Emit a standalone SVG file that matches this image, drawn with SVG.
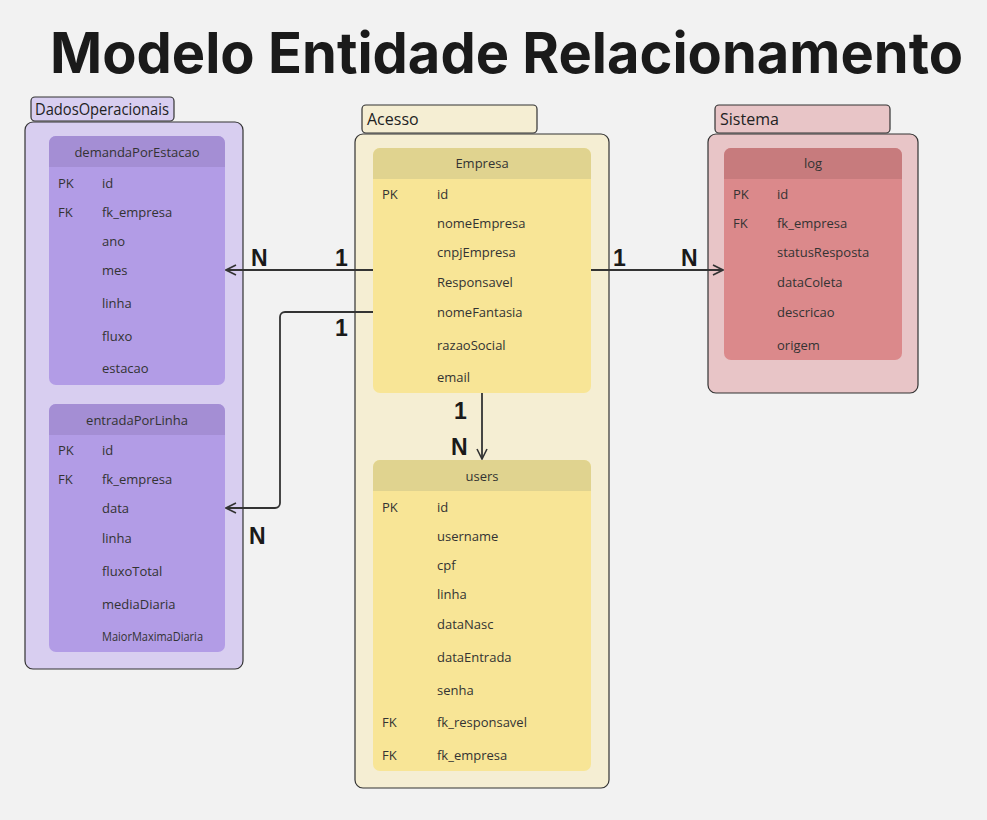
<svg xmlns="http://www.w3.org/2000/svg" width="987" height="820" viewBox="0 0 987 820">
<defs>
<marker id="arr" viewBox="0 0 12 12" refX="11" refY="6" markerWidth="12" markerHeight="12" markerUnits="userSpaceOnUse" orient="auto">
<path d="M1,1 L11,6 L1,11" fill="none" stroke="#333" stroke-width="1.6"/>
</marker>
<style>
.t{font-family:"Open Sans","Noto Sans",sans-serif;font-size:13px;fill:#333}
.h{font-family:"Open Sans","Noto Sans",sans-serif;font-size:13px;fill:#333;text-anchor:middle}
.tab{font-family:"Open Sans","Noto Sans",sans-serif;font-size:16px;fill:#222}
.card{font-family:"Liberation Sans",Arial,sans-serif;font-size:23px;font-weight:bold;fill:#1a1a1a}
.grp{stroke:#333;stroke-width:1.2}
.ln{fill:none;stroke:#333;stroke-width:1.8}
</style>
</defs>
<rect width="987" height="820" fill="#f2f2f2"/>
<text x="50" y="73" font-family="Inter,'Noto Sans',sans-serif" font-size="56" font-weight="700" fill="#1a1a1a" textLength="913" lengthAdjust="spacingAndGlyphs">Modelo Entidade Relacionamento</text>

<g id="grp-dados">
<rect class="grp" x="31" y="97" width="143" height="24" rx="4" fill="#d8cef0"/>
<text class="tab" x="35" y="115" font-size="15" textLength="134" lengthAdjust="spacingAndGlyphs">DadosOperacionais</text>
<rect class="grp" x="25" y="122" width="218" height="547" rx="8" fill="#d8cef0"/>
</g>
<g id="grp-acesso">
<rect class="grp" x="362" y="105" width="175" height="28" rx="4" fill="#f5eed3"/>
<text class="tab" x="367" y="125">Acesso</text>
<rect class="grp" x="355" y="134" width="254" height="654" rx="8" fill="#f5eed3"/>
</g>
<g id="grp-sistema">
<rect class="grp" x="715" y="105" width="175" height="28" rx="4" fill="#e8c5c7"/>
<text class="tab" x="720" y="125">Sistema</text>
<rect class="grp" x="708" y="134" width="210" height="259" rx="8" fill="#e8c5c7"/>
</g>

<g id="demandaPorEstacao">
<rect x="49" y="136" width="176" height="249" rx="7" fill="#b29ce6"/>
<path d="M49,167 V143 a7,7 0 0 1 7,-7 H218 a7,7 0 0 1 7,7 V167 Z" fill="#a48ed4"/>
<text class="h" x="137" y="157">demandaPorEstacao</text>
<text class="t" x="58" y="188">PK</text><text class="t" x="102" y="188">id</text>
<text class="t" x="58" y="217">FK</text><text class="t" x="102" y="217">fk_empresa</text>
<text class="t" x="102" y="246">ano</text>
<text class="t" x="102" y="275">mes</text>
<text class="t" x="102" y="308">linha</text>
<text class="t" x="102" y="341">fluxo</text>
<text class="t" x="102" y="373">estacao</text>
</g>

<g id="entradaPorLinha">
<rect x="49" y="404" width="176" height="248" rx="7" fill="#b29ce6"/>
<path d="M49,435 V411 a7,7 0 0 1 7,-7 H218 a7,7 0 0 1 7,7 V435 Z" fill="#a48ed4"/>
<text class="h" x="137" y="425">entradaPorLinha</text>
<text class="t" x="58" y="455">PK</text><text class="t" x="102" y="455">id</text>
<text class="t" x="58" y="484">FK</text><text class="t" x="102" y="484">fk_empresa</text>
<text class="t" x="102" y="513">data</text>
<text class="t" x="102" y="543">linha</text>
<text class="t" x="102" y="576">fluxoTotal</text>
<text class="t" x="102" y="609">mediaDiaria</text>
<text class="t" x="102" y="641" font-size="10" textLength="101" lengthAdjust="spacingAndGlyphs">MaiorMaximaDiaria</text>
</g>

<g id="Empresa">
<rect x="373" y="148" width="218" height="245" rx="7" fill="#f8e596"/>
<path d="M373,179 V155 a7,7 0 0 1 7,-7 H584 a7,7 0 0 1 7,7 V179 Z" fill="#e0d38f"/>
<text class="h" x="482" y="168">Empresa</text>
<text class="t" x="382" y="199">PK</text><text class="t" x="437" y="199">id</text>
<text class="t" x="437" y="228">nomeEmpresa</text>
<text class="t" x="437" y="257">cnpjEmpresa</text>
<text class="t" x="437" y="287">Responsavel</text>
<text class="t" x="437" y="317">nomeFantasia</text>
<text class="t" x="437" y="350">razaoSocial</text>
<text class="t" x="437" y="382">email</text>
</g>

<g id="users">
<rect x="373" y="460" width="218" height="311" rx="7" fill="#f8e596"/>
<path d="M373,491 V467 a7,7 0 0 1 7,-7 H584 a7,7 0 0 1 7,7 V491 Z" fill="#e0d38f"/>
<text class="h" x="482" y="481">users</text>
<text class="t" x="382" y="512">PK</text><text class="t" x="437" y="512">id</text>
<text class="t" x="437" y="541">username</text>
<text class="t" x="437" y="570">cpf</text>
<text class="t" x="437" y="599">linha</text>
<text class="t" x="437" y="629">dataNasc</text>
<text class="t" x="437" y="662">dataEntrada</text>
<text class="t" x="437" y="695">senha</text>
<text class="t" x="382" y="727">FK</text><text class="t" x="437" y="727">fk_responsavel</text>
<text class="t" x="382" y="760">FK</text><text class="t" x="437" y="760">fk_empresa</text>
</g>

<g id="log">
<rect x="724" y="148" width="178" height="212" rx="7" fill="#db898b"/>
<path d="M724,179 V155 a7,7 0 0 1 7,-7 H895 a7,7 0 0 1 7,7 V179 Z" fill="#c77b7d"/>
<text class="h" x="813" y="168">log</text>
<text class="t" x="733" y="199">PK</text><text class="t" x="777" y="199">id</text>
<text class="t" x="733" y="228">FK</text><text class="t" x="777" y="228">fk_empresa</text>
<text class="t" x="777" y="257">statusResposta</text>
<text class="t" x="777" y="287">dataColeta</text>
<text class="t" x="777" y="317">descricao</text>
<text class="t" x="777" y="350">origem</text>
</g>

<g id="connectors">
<path class="ln" d="M373,270 H226" marker-end="url(#arr)"/>
<path class="ln" d="M373,312 H285 a5,5 0 0 0 -5,5 V503 a5,5 0 0 1 -5,5 H226" marker-end="url(#arr)"/>
<path class="ln" d="M591,270 H723" marker-end="url(#arr)"/>
<path class="ln" d="M482,393 V459" marker-end="url(#arr)"/>
<text class="card" x="335" y="266">1</text>
<text class="card" x="251" y="266">N</text>
<text class="card" x="335" y="336">1</text>
<text class="card" x="249" y="544">N</text>
<text class="card" x="613" y="266">1</text>
<text class="card" x="681" y="266">N</text>
<text class="card" x="454" y="419">1</text>
<text class="card" x="451" y="455">N</text>
</g>
</svg>
